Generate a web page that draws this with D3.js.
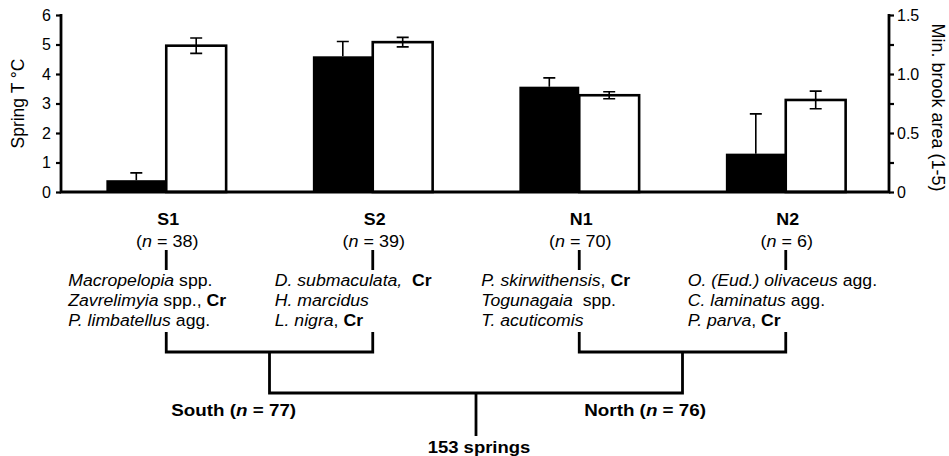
<!DOCTYPE html>
<html>
<head>
<meta charset="utf-8">
<script src="https://cdn.jsdelivr.net/npm/d3@7"></script>
<style>
  body { margin: 0; background: #fff; }
  svg text { font-family: "Liberation Sans", Arial, sans-serif; fill: #000; white-space: pre; }
</style>
</head>
<body>
<div id="chart"></div>
<script>
// values
var groups = ["S1", "S2", "N1", "N2"];
var groupN = [38, 39, 70, 6];
var springT = [0.4, 4.6, 3.57, 1.3];          // black bars, left axis
var springTErr = [0.25, 0.5, 0.3, 1.35];
var brookArea = [1.24, 1.27, 0.82, 0.78];     // white bars, right axis
var brookAreaErr = [0.065, 0.04, 0.03, 0.075];
var leftTicks = [0, 1, 2, 3, 4, 5, 6];
var rightTicks = [0, 0.25, 0.5, 0.75, 1.0, 1.25, 1.5];
var rightLabels = ["0", "", "0.5", "", "1.0", "", "1.5"];

var species = [
  ["<i>Macropelopia</i> spp.", "<i>Zavrelimyia</i> spp., <b>Cr</b>", "<i>P. limbatellus</i> agg."],
  ["<i>D. submaculata,</i>  <b>Cr</b>", "<i>H. marcidus</i>", "<i>L. nigra</i>, <b>Cr</b>"],
  ["<i>P. skirwithensis</i>, <b>Cr</b>", "<i>Togunagaia</i>  spp.", "<i>T. acuticomis</i>"],
  ["<i>O. (Eud.) olivaceus</i> agg.", "<i>C. laminatus</i> agg.", "<i>P. parva</i>, <b>Cr</b>"]
];
var regions = [
  {label: "South (<i>n</i> = 77)", members: ["S1", "S2"]},
  {label: "North (<i>n</i> = 76)", members: ["N1", "N2"]}
];
var rootLabel = "153 springs";

var width = 949, height = 456,
    x0 = 61, x1 = 889, yTop = 15, yBase = 192;

var svg = d3.select("#chart")
  .append("svg")
    .attr("width", width)
    .attr("height", height)

// writes "<i>..</i>" / "<b>..</b>" markup into tspans
function rich(text, str) {
  str.split(/(<[ib]>.*?<\/[ib]>)/).filter(function(s) { return s.length }).forEach(function(s) {
    var m = s.match(/^<([ib])>(.*)<\/[ib]>$/)
    text.append("tspan")
      .text(m ? m[2] : s)
      .style("font-style", m && m[1] == "i" ? "italic" : null)
      .style("font-weight", m && m[1] == "b" ? "bold" : null)
  })
}

// the original lettering is a bit wider than Arial, so stretch it sideways
function label(x, y, sx, str, anchor, bold) {
  var t = svg.append("text")
    .attr("transform", "translate(" + x + "," + y + ") scale(" + sx + ",1)")
    .attr("text-anchor", anchor || "start")
    .style("font-size", "16.5px")
    .style("font-weight", bold ? "bold" : null)
  rich(t, str)
  return t
}

var xScale = d3.scaleBand()
  .domain(groups)
  .range([x0 + 2, x1])
  .paddingInner(0.42)
  .paddingOuter(0.21)

var xSub = d3.scaleBand()
  .domain(["t", "b"])
  .range([0, xScale.bandwidth()])

var yLeft = d3.scaleLinear().domain([0, 6]).range([yBase, yTop])
var yRight = d3.scaleLinear().domain([0, 1.5]).range([yBase, yTop])

function cx(g) { return xScale(g) + xScale.bandwidth() / 2 }

// bars
var bars = svg.append("g")
bars.selectAll(".black")
  .data(groups)
  .enter()
  .append("rect")
    .attr("x", function(d) { return xScale(d) + xSub("t") })
    .attr("y", function(d, i) { return yLeft(springT[i]) })
    .attr("width", xSub.bandwidth())
    .attr("height", function(d, i) { return yBase - yLeft(springT[i]) })
    .style("fill", "#000")

bars.selectAll(".white")
  .data(groups)
  .enter()
  .append("rect")
    .attr("x", function(d) { return xScale(d) + xSub("b") })
    .attr("y", function(d, i) { return yRight(brookArea[i]) })
    .attr("width", xSub.bandwidth())
    .attr("height", function(d, i) { return yBase - yRight(brookArea[i]) })
    .style("fill", "#fff")
    .style("stroke", "#000")
    .style("stroke-width", 2.6)

// error bars
var cap = 6
groups.forEach(function(g, i) {
  var xb = xScale(g) + xSub("t") + xSub.bandwidth() / 2,
      yv = yLeft(springT[i]), yh = yLeft(springT[i] + springTErr[i])
  bars.append("path")
    .attr("d", "M" + xb + "," + yv + "V" + yh + "M" + (xb - cap) + "," + yh + "H" + (xb + cap))
    .style("stroke", "#000").style("stroke-width", 1.6).style("fill", "none")

  var xw = xScale(g) + xSub("b") + xSub.bandwidth() / 2,
      ylo = yRight(brookArea[i] - brookAreaErr[i]), yhi = yRight(brookArea[i] + brookAreaErr[i])
  bars.append("path")
    .attr("d", "M" + xw + "," + ylo + "V" + yhi +
      "M" + (xw - cap) + "," + yhi + "H" + (xw + cap) +
      "M" + (xw - cap) + "," + ylo + "H" + (xw + cap))
    .style("stroke", "#000").style("stroke-width", 1.6).style("fill", "none")
})

// axes
var gl = svg.append("g")
  .attr("transform", "translate(" + x0 + ",0)")
  .call(d3.axisLeft(yLeft).tickValues(leftTicks).tickSize(5).tickPadding(5).tickFormat(d3.format("d")))
gl.select(".domain").remove()
gl.selectAll(".tick line").style("stroke-width", 2.2)
gl.selectAll(".tick text").style("font-size", "16px").attr("font-family", null)

var gr = svg.append("g")
  .attr("transform", "translate(" + x1 + ",0)")
  .call(d3.axisRight(yRight).tickValues(rightTicks).tickSize(5).tickPadding(3)
    .tickFormat(function(d, i) { return rightLabels[i] }))
gr.select(".domain").remove()
gr.selectAll(".tick line").style("stroke-width", 2.2)
gr.selectAll(".tick text").style("font-size", "16px").attr("font-family", null)

svg.append("path")
  .attr("d", "M" + x0 + "," + (yTop - 1) + "V" + yBase + "H" + x1 + "V" + (yTop - 1))
  .style("fill", "none")
  .style("stroke", "#000")
  .style("stroke-width", 2.8)

svg.append("text")
  .attr("transform", "translate(24," + (yTop + yBase) / 2 + ") rotate(-90)")
  .attr("text-anchor", "middle")
  .style("font-size", "17.5px")
  .text("Spring T \u00b0C")

svg.append("text")
  .attr("transform", "translate(932," + (yTop + yBase + 8) / 2 + ") rotate(90)")
  .attr("text-anchor", "middle")
  .style("font-size", "18px")
  .text("Min. brook area (1-5)")

// group labels
groups.forEach(function(g, i) {
  var c = cx(g)
  label(c + 2, 225, 1.08, g, "middle", true)
  label(c + 1, 247, 1.09, "(<i>n</i> = " + groupN[i] + ")", "middle")
  species[i].forEach(function(s, j) {
    label(c - 98, 286 + j * 20, 1.07, s)
  })
})

// dendrogram
var lines = svg.append("g")
  .style("stroke", "#000")
  .style("fill", "none")
  .style("stroke-width", 2.8)

groups.forEach(function(g) {
  lines.append("path").attr("d", "M" + cx(g) + ",250V270")
})

var mids = regions.map(function(r) {
  var a = cx(r.members[0]), b = cx(r.members[1])
  lines.append("path").attr("d", "M" + a + ",332V352H" + b + "V332")
  return (a + b) / 2
})
lines.append("path").attr("d", "M" + mids[0] + ",352V393H" + mids[1] + "V352")
var root = (mids[0] + mids[1]) / 2
lines.append("path").attr("d", "M" + root + ",393V436")

regions.forEach(function(r) {
  label(cx(r.members[0]) + 5, 416, 1.14, r.label, "start", true)
})

label(root + 3, 453, 1.12, rootLabel, "middle", true)
</script>
</body>
</html>
